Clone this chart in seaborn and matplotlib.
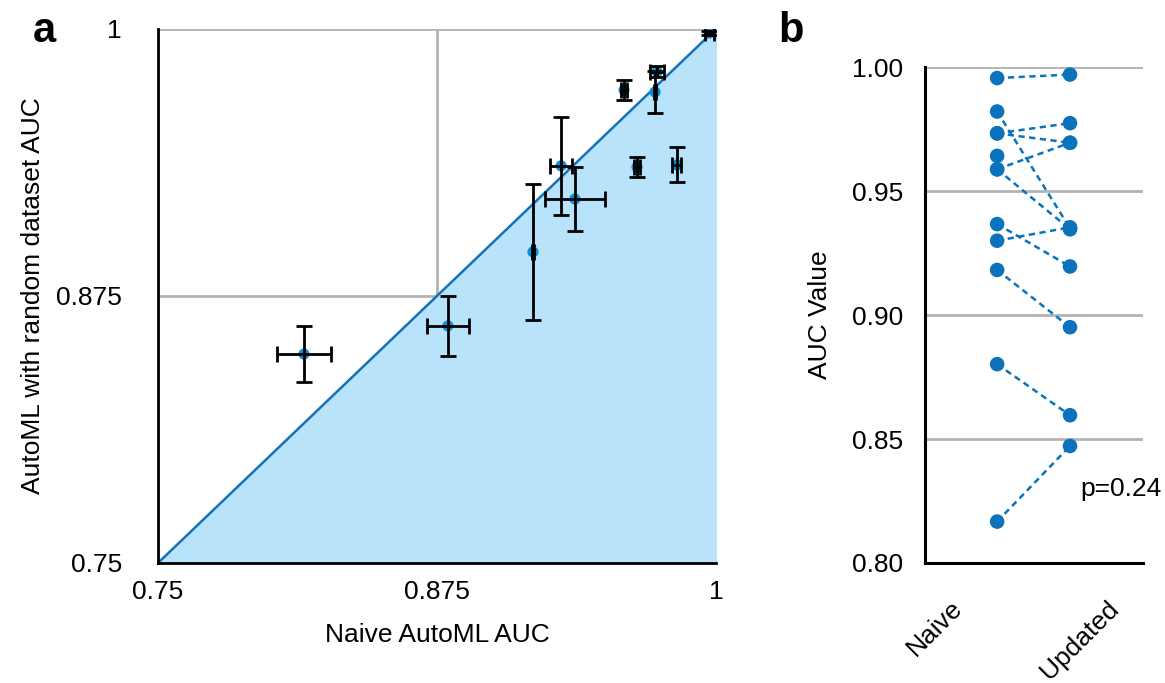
import numpy as np
import pandas as pd
import matplotlib
matplotlib.use("Agg")
import matplotlib.pyplot as plt
import matplotlib.transforms as mtransforms
import seaborn as sns

sns.set_theme(style="white")
plt.rcParams["font.family"] = ["Liberation Sans", "DejaVu Sans"]
plt.rcParams["text.color"] = "black"
plt.rcParams["axes.labelcolor"] = "black"
plt.rcParams["xtick.color"] = "black"
plt.rcParams["ytick.color"] = "black"

# panel a: naive AutoML AUC vs AutoML with random dataset AUC (+/- error)
naive_auc = [0.9969, 0.9736, 0.9727, 0.9588, 0.9306, 0.9368, 0.9180, 0.9646, 0.9825, 0.8799, 0.8154]
random_auc = [0.9981, 0.9799, 0.9705, 0.9714, 0.9359, 0.9204, 0.8956, 0.9354, 0.9363, 0.8610, 0.8478]
naive_err = [0.0020, 0.0030, 0.0006, 0.0015, 0.0050, 0.0134, 0.0006, 0.0015, 0.0020, 0.0096, 0.0123]
random_err = [0.0010, 0.0025, 0.0100, 0.0046, 0.0230, 0.0150, 0.0320, 0.0045, 0.0082, 0.0140, 0.0133]
ticks_a = [0.75, 0.875, 1.0]
tick_labels_a = ["0.75", "0.875", "1"]

# panel b: paired AUC values, naive vs updated
pair_naive = [0.9956, 0.9821, 0.9733, 0.9733, 0.9642, 0.9588, 0.9588, 0.9367, 0.9300, 0.9182, 0.8802, 0.8167]
pair_updated = [0.9970, 0.9350, 0.9774, 0.9695, np.nan, 0.9695, 0.9346, 0.9196, 0.9354, 0.8951, 0.8596, 0.8472]
groups = ["Naive", "Updated"]
ticks_b = [0.80, 0.85, 0.90, 0.95, 1.00]

df_a = pd.DataFrame({"naive": naive_auc, "random": random_auc,
                     "xerr": naive_err, "yerr": random_err})

rows = []
for i, (a, b) in enumerate(zip(pair_naive, pair_updated)):
    rows.append({"pair": i, "group": groups[0], "auc": a})
    rows.append({"pair": i, "group": groups[1], "auc": b})
df_b = pd.DataFrame(rows)

fig = plt.figure(figsize=(11.65, 6.83), dpi=100)
ax_a = fig.add_axes([0.1356, 0.1757, 0.479, 0.782])
ax_b = fig.add_axes([0.794, 0.1757, 0.187, 0.726])

fs = 19
grid_col = "#b3b3b3"

# ---- panel a ----
lo, hi = ticks_a[0], ticks_a[-1]
diag = np.array([lo, hi])
ax_a.fill_between(diag, lo, diag, color="#b8e3fb", zorder=1)
ax_a.plot(diag, diag, color="#1572b6", lw=1.8, zorder=3)
sns.scatterplot(data=df_a, x="naive", y="random", ax=ax_a, color="#0b8fdc",
                s=65, edgecolor="none", zorder=4)
ax_a.errorbar(df_a["naive"], df_a["random"], xerr=df_a["xerr"], yerr=df_a["yerr"],
              fmt="none", ecolor="black", elinewidth=2, capsize=6, capthick=2, zorder=5)
ax_a.set_xlim(lo, hi)
ax_a.set_ylim(lo, hi)
ax_a.set_xticks(ticks_a)
ax_a.set_xticklabels(tick_labels_a)
ax_a.set_yticks(ticks_a)
ax_a.set_yticklabels(tick_labels_a)
ax_a.grid(True, color=grid_col, lw=2, zorder=0)
ax_a.set_axisbelow(True)
for s in ["top", "right"]:
    ax_a.spines[s].set_visible(False)
for s in ["left", "bottom"]:
    ax_a.spines[s].set_color("black")
    ax_a.spines[s].set_linewidth(2)
    ax_a.spines[s].set_zorder(6)
ax_a.tick_params(axis="x", length=0, pad=12, labelsize=fs)
ax_a.tick_params(axis="y", length=0, pad=26, labelsize=fs)
ax_a.set_xlabel("Naive AutoML AUC", fontsize=fs, labelpad=14)
ax_a.set_ylabel("AutoML with random dataset AUC", fontsize=fs, labelpad=8)
fig.text(0.028, 0.955, "a", fontsize=30, fontweight="bold", ha="left", va="center")

# ---- panel b ----
sns.lineplot(data=df_b, x="group", y="auc", units="pair", estimator=None,
             ax=ax_b, color="#0a73bb", lw=1.8, linestyle=(0, (2.5, 1.8)), zorder=3)
sns.scatterplot(data=df_b, x="group", y="auc", ax=ax_b, color="#0a73bb",
                s=110, edgecolor="none", zorder=4)
ax_b.set_xlim(-0.99, 2.0)
ax_b.set_ylim(ticks_b[0], ticks_b[-1])
ax_b.set_yticks(ticks_b)
ax_b.set_yticklabels([f"{t:.2f}" for t in ticks_b])
ax_b.yaxis.grid(True, color=grid_col, lw=2, zorder=0)
ax_b.set_axisbelow(True)
for s in ["top", "right"]:
    ax_b.spines[s].set_visible(False)
for s in ["left", "bottom"]:
    ax_b.spines[s].set_color("black")
    ax_b.spines[s].set_linewidth(2.2)
ax_b.tick_params(axis="y", length=0, pad=16, labelsize=fs)
ax_b.tick_params(axis="x", length=0, pad=24, labelsize=fs)
# rotated category labels, nudged like the original
shifts = [-0.62, 0.10]
for lab, dx in zip(ax_b.get_xticklabels(), shifts):
    lab.set_rotation(45)
    lab.set_ha("center")
    lab.set_va("top")
    lab.set_transform(lab.get_transform() +
                      mtransforms.ScaledTranslation(dx, 0, fig.dpi_scale_trans))
ax_b.set_xlabel("")
ax_b.set_ylabel("AUC Value", fontsize=fs, labelpad=14)
ax_b.text(1.14, 0.830, "p=0.24", fontsize=fs, ha="left", va="center")
fig.text(0.668, 0.955, "b", fontsize=30, fontweight="bold", ha="left", va="center")

fig.savefig("out.png", dpi=100)
